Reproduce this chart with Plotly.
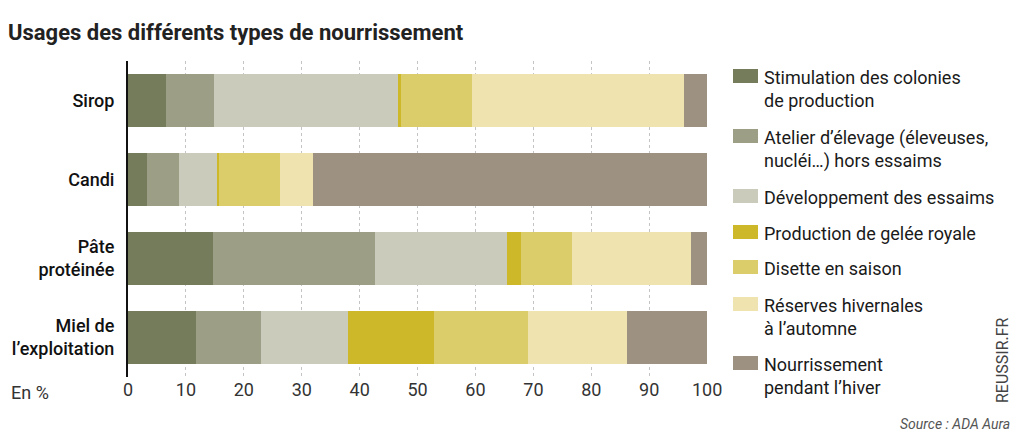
import plotly.graph_objects as go

# categories, top to bottom
categories = ["Sirop", "Candi", "Pâte<br>protéinée", "Miel de<br>l’exploitation"]

series_names = [
    "Stimulation des colonies<br>de production",
    "Atelier d’élevage (éleveuses,<br>nucléi…) hors essaims",
    "Développement des essaims",
    "Production de gelée royale",
    "Disette en saison",
    "Réserves hivernales<br>à l’automne",
    "Nourrissement<br>pendant l’hiver",
]

# values in % per category (Sirop, Candi, Pâte protéinée, Miel de l'exploitation)
stimulation = [6.6, 3.2, 14.6, 11.8]
atelier = [8.2, 5.6, 28.0, 11.1]
developpement = [31.8, 6.6, 22.8, 15.1]
gelee_royale = [0.6, 0.3, 2.5, 14.8]
disette = [12.2, 10.5, 8.8, 16.2]
reserves = [36.6, 5.8, 20.6, 17.1]
hiver = [4.0, 68.0, 2.7, 13.9]

series_values = [stimulation, atelier, developpement, gelee_royale, disette, reserves, hiver]
colors = ["#747c5c", "#9c9f86", "#cacbbb", "#cdb82a", "#dccd6b", "#efe4b0", "#9d9282"]

ticks = [0, 10, 20, 30, 40, 50, 60, 70, 80, 90, 100]

FONT = "Roboto, Noto Sans, sans-serif"

# the page body adds an 8px margin, so draw on a 1008x427 canvas
W, H = 1008, 427
L, R, T, B = 120, 700, 53, 369  # plot area in canvas pixels


def px(x):
    return (x - 8 - L) / (R - L)


def py(y):
    return (B - (y - 8)) / (B - T)


fig = go.Figure()
for name, vals, col in zip(series_names, series_values, colors):
    fig.add_trace(go.Bar(
        y=categories, x=vals, name=name.replace("<br>", " "), orientation="h",
        marker=dict(color=col, line=dict(width=0)),
        showlegend=False,
    ))

# hand-made legend (wide swatches like the original)
legend_y = [77, 137, 197, 233, 268, 305, 364]
for name, col, ty in zip(series_names, colors, legend_y):
    fig.add_shape(type="rect", xref="paper", yref="paper",
                  x0=px(733), x1=px(758), y0=py(ty + 6), y1=py(ty - 8),
                  fillcolor=col, line=dict(width=0))
    fig.add_annotation(text=name, xref="paper", yref="paper",
                       x=px(762), y=py(ty - 12),
                       xanchor="left", yanchor="top", align="left",
                       showarrow=False,
                       font=dict(family=FONT, size=18, color="#1a1a1a"))

fig.add_annotation(text="En %", xref="paper", yref="paper",
                   x=px(9), y=py(392), xanchor="left", yanchor="middle",
                   showarrow=False, font=dict(family=FONT, size=18, color="#333333"))
fig.add_annotation(text="REUSSIR.FR", xref="paper", yref="paper", textangle=-90,
                   x=px(1002), y=py(360), xanchor="center", yanchor="middle",
                   showarrow=False, font=dict(family=FONT, size=16, color="#444444"))
fig.add_annotation(text="<i>Source : ADA Aura</i>", xref="paper", yref="paper",
                   x=px(1012), y=py(424), xanchor="right", yanchor="middle",
                   showarrow=False, font=dict(family=FONT, size=14, color="#555555"))

fig.update_layout(
    barmode="stack",
    bargap=0.32,
    width=W, height=H,
    margin=dict(l=L, r=W - R, t=T, b=H - B, pad=0, autoexpand=False),
    paper_bgcolor="white", plot_bgcolor="white",
    title=dict(text="<b>Usages des différents types de nourrissement</b>",
               x=0, xanchor="left", xref="container", pad=dict(l=0),
               y=1 - 24 / H, yanchor="middle",
               font=dict(family=FONT, size=22, color="#222222")),
    font=dict(family=FONT, color="#222222"),
)
fig.update_xaxes(
    range=[0, 100.15], tickvals=ticks, ticks="", automargin=False,
    showgrid=True, gridcolor="#c4c4c4", gridwidth=1, griddash="dot",
    zeroline=False, showline=False,
    tickfont=dict(family=FONT, size=18, color="#333333"),
)
fig.update_yaxes(
    autorange="reversed", ticks="", ticklabelstandoff=8, automargin=False,
    showline=True, linecolor="#111111", linewidth=2,
    showgrid=False, zeroline=False,
    tickfont=dict(family=FONT, size=18, color="#111111", weight=500),
)

fig.write_html("out.html")
